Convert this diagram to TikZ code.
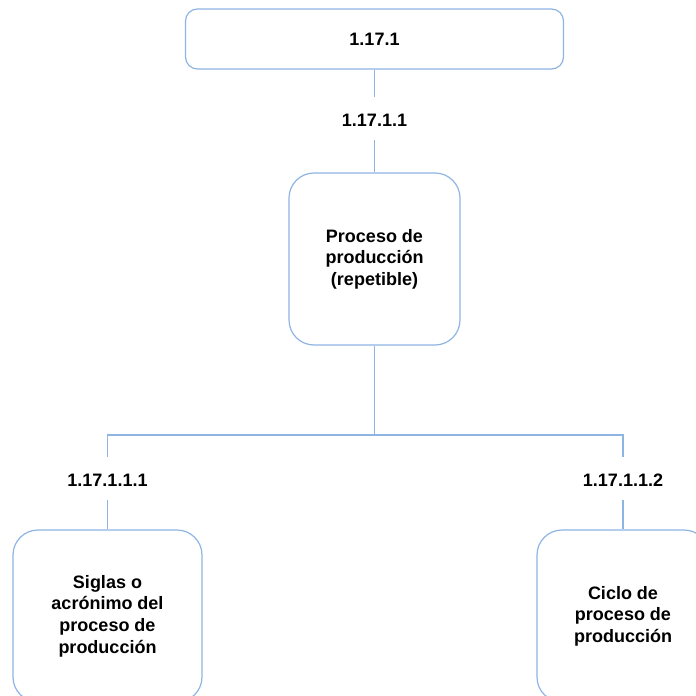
\documentclass[tikz,border=0pt]{standalone}
\usepackage{fontspec}
\setmainfont{Liberation Sans}
\begin{document}
\begin{tikzpicture}[x=1pt,y=-1pt,
  conn/.style={draw=lineblue, line width=1.2pt},
  box/.style={draw=lineblue, line width=1.2pt, rounded corners=25pt, inner sep=0pt, align=center,
    font=\fontsize{18}{21.6}\selectfont\bfseries},
  lbl/.style={inner xsep=2pt, inner ysep=13.5pt, text height=16pt, text depth=0pt, anchor=base,
    font=\fontsize{18}{21.6}\selectfont\bfseries}]
\definecolor{lineblue}{HTML}{8EB4E3}
\useasboundingbox (0,0) rectangle (696,696);
\clip (0,0) rectangle (696,696);
\node[box, rounded corners=12pt, minimum width=378pt, minimum height=60pt] (top) at (374.5,39) {1.17.1};
\node[lbl] (l1) at (374.5,126.4) {1.17.1.1};
\node[box, minimum width=171pt, minimum height=172pt] (mid) at (374.5,259) {Proceso de\\producción\\(repetible)};
\coordinate (j) at (374.5,435);
\node[lbl] (lL) at (107.5,486.4) {1.17.1.1.1};
\node[lbl] (lR) at (623,486.4) {1.17.1.1.2};
\node[box, minimum width=189pt, minimum height=172pt] (bL) at (107.5,616) {Siglas o\\acrónimo del\\proceso de\\producción};
\node[box, minimum width=172pt, minimum height=172pt] (bR) at (623,616) {Ciclo de\\proceso de\\producción};
\draw[conn] (top) -- (l1);
\draw[conn] (l1) -- (mid);
\draw[conn] (mid.south) -- (j);
\draw[conn] (j) -| (lL.north);
\draw[conn] (j) -| (lR.north);
\draw[conn] (lL) -- (bL);
\draw[conn] (lR) -- (bR);
\end{tikzpicture}
\end{document}
